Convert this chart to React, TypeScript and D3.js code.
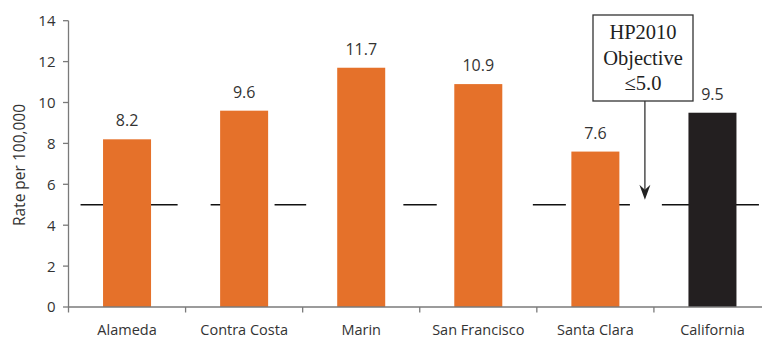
import React from "react";
import * as d3 from "d3";

const categories = ["Alameda", "Contra Costa", "Marin", "San Francisco", "Santa Clara", "California"];
const values = [8.2, 9.6, 11.7, 10.9, 7.6, 9.5];
const yTicks = [0, 2, 4, 6, 8, 10, 12, 14];
const objective = 5.0;
// visible pieces of the objective reference line, in category-index units
const objectiveSegments: [number, number][] = [
  [0.103, 0.932],
  [1.214, 1.5],
  [1.76, 2.03],
  [2.86, 3.145],
  [3.966, 4.248],
  [4.5, 4.795],
  [5.068, 5.897],
];
const annotationLines = ["HP2010", "Objective", "≤5.0"];

const W = 762;
const H = 339;
const left = 68.5;
const right = 771;
const top = 20.7;
const bottom = 307;
const sansFont = "'Open Sans', 'Noto Sans', sans-serif";
const textColor = "#333";
const orange = "#E5712A";
const dark = "#231F20";

export default function App() {
  const x = d3.scaleBand<string>().domain(categories).range([left, right]).paddingInner(0.59).paddingOuter(0.295);
  const xu = d3.scaleLinear().domain([0, categories.length]).range([left, right]);
  const y = d3.scaleLinear().domain([0, 14]).range([bottom, top]);
  const boundaries = d3.range(categories.length + 1);

  const arrowX = xu(4.923);
  const boxL = 593, boxR = 693, boxT = 15, boxB = 101;
  const tipY = y(objective) - 5;

  return (
    <svg width={W} height={H} style={{ position: "absolute", left: 0, top: 0, background: "#fff" }}>
      {/* objective line */}
      {objectiveSegments.map(([a, b], i) => (
        <line key={"o" + i} x1={xu(a)} x2={xu(b)} y1={y(objective)} y2={y(objective)} stroke="#111" strokeWidth={1.6} />
      ))}
      {/* bars */}
      {categories.map((c, i) => (
        <rect key={c} x={x(c)!} width={x.bandwidth()} y={y(values[i])} height={y(0) - y(values[i])}
          fill={i === categories.length - 1 ? dark : orange} />
      ))}
      {/* value labels */}
      {categories.map((c, i) => (
        <text key={"v" + c} x={x(c)! + x.bandwidth() / 2} y={y(values[i]) - 13} textAnchor="middle"
          fontFamily={sansFont} fontSize={16} fill={textColor}>{values[i].toFixed(1)}</text>
      ))}
      {/* y axis */}
      <line x1={left} x2={left} y1={top} y2={bottom} stroke="#7a7a7a" strokeWidth={1.3} />
      {yTicks.map((t) => (
        <g key={"t" + t}>
          <line x1={left - 5.5} x2={left} y1={y(t)} y2={y(t)} stroke="#7a7a7a" strokeWidth={1.3} />
          <text x={55.5} y={y(t)} dy="0.36em" textAnchor="end" fontFamily={sansFont} fontSize={15} fill={textColor}>{t}</text>
        </g>
      ))}
      {/* x axis */}
      <line x1={left} x2={right} y1={bottom} y2={bottom} stroke="#7a7a7a" strokeWidth={1.3} />
      {boundaries.map((b) => (
        <line key={"b" + b} x1={xu(b)} x2={xu(b)} y1={bottom} y2={bottom + 5.5} stroke="#7a7a7a" strokeWidth={1.3} />
      ))}
      {categories.map((c) => (
        <text key={"c" + c} x={x(c)! + x.bandwidth() / 2} y={334.5} textAnchor="middle" fontFamily={sansFont}
          fontSize={14.5} fill={textColor}>{c}</text>
      ))}
      {/* y title */}
      <text transform={`translate(25,165) rotate(-90)`} textAnchor="middle" fontFamily={sansFont} fontSize={15.5}
        fill={textColor}>Rate per 100,000</text>
      {/* annotation */}
      <rect x={boxL} y={boxT} width={boxR - boxL} height={boxB - boxT} fill="#fff" stroke="#333" strokeWidth={1.3} />
      {annotationLines.map((l, i) => (
        <text key={"a" + i} x={(boxL + boxR) / 2} y={39 + i * 25.5} textAnchor="middle"
          fontFamily="'Liberation Serif', 'DejaVu Serif', serif" fontSize={20.5} fill="#222">{l}</text>
      ))}
      <line x1={arrowX} x2={arrowX} y1={boxB} y2={tipY - 10} stroke="#333" strokeWidth={1.3} />
      <path d={`M${arrowX - 5.5},${tipY - 15} L${arrowX},${tipY - 10} L${arrowX + 5.5},${tipY - 15} L${arrowX},${tipY} Z`} fill="#222" />
    </svg>
  );
}
